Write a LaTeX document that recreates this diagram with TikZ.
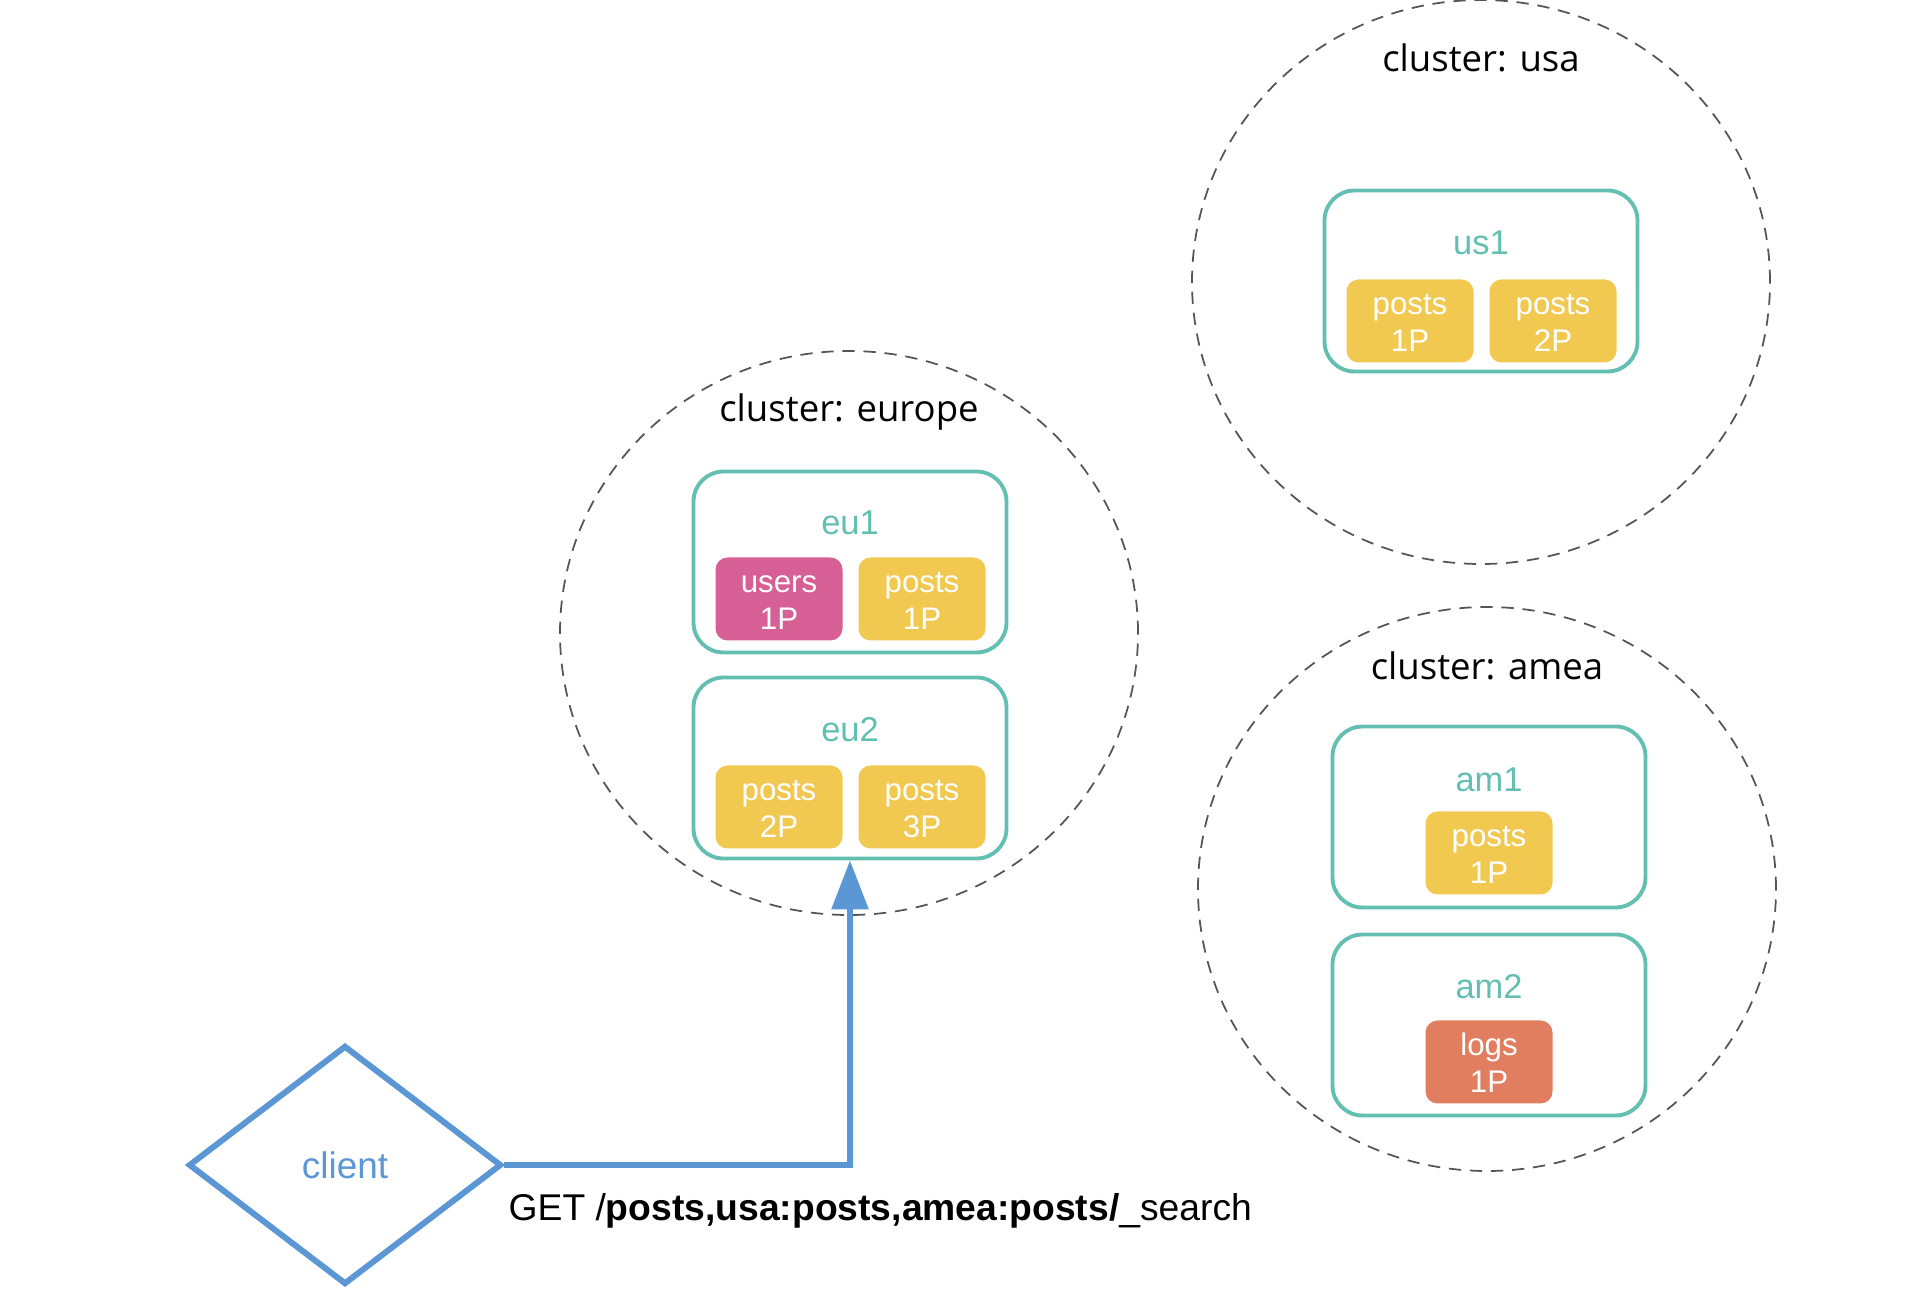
\documentclass[tikz,border=0pt]{standalone}
\usepackage{fontspec}
\setmainfont{Liberation Sans}
\newfontfamily\clusterfont{Open Sans}
\usetikzlibrary{shapes.geometric, arrows.meta}

\definecolor{nodeteal}{HTML}{62BFB1}
\definecolor{shardyellow}{HTML}{F1C951}
\definecolor{shardpink}{HTML}{D65F95}
\definecolor{shardorange}{HTML}{E07E5F}
\definecolor{clientblue}{HTML}{5B96D5}
\definecolor{dashgray}{HTML}{555555}

\begin{document}
\begin{tikzpicture}[
  cluster/.style={draw=dashgray, ellipse, line width=0.5pt, dash pattern=on 3.5pt off 2.5pt, minimum width=5.78cm, minimum height=5.64cm, inner sep=0pt},
  clustertag/.style={font=\clusterfont\fontsize{10.4}{12}\selectfont, text=black},
  server/.style={draw=nodeteal, rectangle, rounded corners=0.3cm, line width=1.1pt, minimum width=3.13cm, minimum height=1.81cm, inner sep=0pt},
  servertag/.style={font=\fontsize{9.8}{12}\selectfont, text=nodeteal},
  shard/.style={rectangle, rounded corners=0.12cm, fill=shardyellow, text=white, align=center, font=\fontsize{8.9}{10.5}\selectfont, text height=17.4pt, text depth=0pt, minimum width=1.27cm, minimum height=0.83cm, inner sep=0pt},
  client/.style={draw=clientblue, diamond, line width=1.7pt, minimum width=3.13cm, minimum height=2.39cm, aspect=1.31, inner sep=0pt, text=clientblue, font=\fontsize{10.5}{12}\selectfont},
  flow/.style={-{Triangle[length=0.49cm, width=0.36cm]}, draw=clientblue, line width=1.7pt}
]
\useasboundingbox (0,0) rectangle (19.30,-13.14);

% Cluster: usa
\node[cluster] (usa) at (14.81, -2.82) {};
\node[clustertag] (usatag) at (14.81, -0.58) {cluster: usa};
\node[server] (us1) at (14.81, -2.81) {};
\node[servertag] at (14.81, -2.43) {us1};
\node[shard] (us1a) at (14.10, -3.21) {posts\\1P};
\node[shard] (us1b) at (15.53, -3.21) {posts\\2P};

% Cluster: europe
\node[cluster] (europe) at (8.49, -6.33) {};
\node[clustertag] (europetag) at (8.49, -4.12) {cluster: europe};
\node[server] (eu1) at (8.50, -5.62) {};
\node[servertag] at (8.50, -5.23) {eu1};
\node[shard, fill=shardpink] (eu1a) at (7.79, -5.99) {users\\1P};
\node[shard] (eu1b) at (9.22, -5.99) {posts\\1P};
\node[server] (eu2) at (8.50, -7.68) {};
\node[servertag] at (8.50, -7.30) {eu2};
\node[shard] (eu2a) at (7.79, -8.07) {posts\\2P};
\node[shard] (eu2b) at (9.22, -8.07) {posts\\3P};

% Cluster: amea
\node[cluster] (amea) at (14.87, -8.89) {};
\node[clustertag] (ameatag) at (14.87, -6.66) {cluster: amea};
\node[server] (am1) at (14.89, -8.17) {};
\node[servertag] at (14.89, -7.80) {am1};
\node[shard] (am1a) at (14.89, -8.53) {posts\\1P};
\node[server] (am2) at (14.89, -10.25) {};
\node[servertag] at (14.89, -9.87) {am2};
\node[shard, fill=shardorange] (am2a) at (14.89, -10.62) {logs\\1P};

% Client request
\node[client] (client) at (3.45, -11.65) {client};
\node[anchor=west, font=\fontsize{10.6}{12}\selectfont, inner sep=0pt] (req) at (5.08, -12.11) {GET /\textbf{posts,usa:posts,amea:posts/}\_search};

\draw[flow] (client.east) -| (eu2.south);

\end{tikzpicture}
\end{document}
